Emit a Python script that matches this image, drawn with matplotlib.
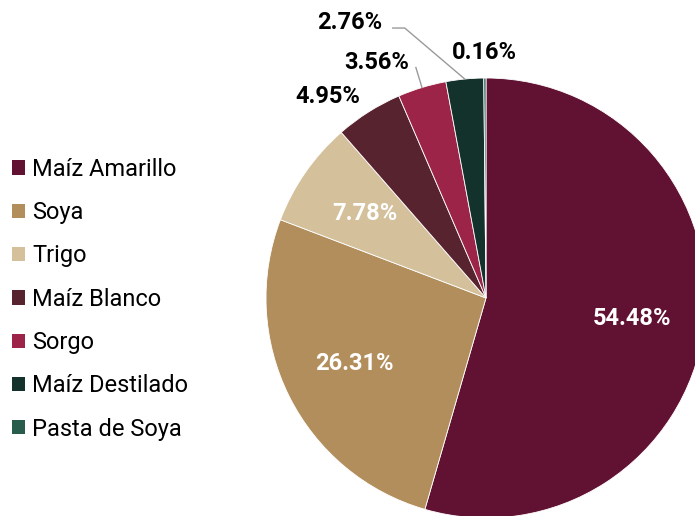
import numpy as np
import matplotlib
matplotlib.use("Agg")
import matplotlib.pyplot as plt
from matplotlib.patches import Patch

categories = ["Maíz Amarillo", "Soya", "Trigo", "Maíz Blanco", "Sorgo",
              "Maíz Destilado", "Pasta de Soya"]
values = [54.48, 26.31, 7.78, 4.95, 3.56, 2.76, 0.16]
pct_labels = ["54.48%", "26.31%", "7.78%", "4.95%", "3.56%", "2.76%", "0.16%"]
colors = ["#611232", "#B38E5D", "#D4C19C", "#57232E", "#9D2449", "#13322B", "#285C4D"]

W, H = 695, 516
fig = plt.figure(figsize=(W / 100, H / 100), dpi=100)
ax = fig.add_axes([0, 0, 1, 1])
ax.set_xlim(0, W)
ax.set_ylim(0, H)
ax.set_aspect("equal")
ax.axis("off")

cx, cy, R = 486, 218, 220
wedges, _ = ax.pie(values, colors=colors, startangle=90, counterclock=False,
                   center=(cx, cy), radius=R,
                   wedgeprops=dict(edgecolor="white", linewidth=0.6))
ax.set_xlim(0, W)
ax.set_ylim(0, H)

font_lab = "Roboto"
FS = 17

def mid(w):
    return np.deg2rad((w.theta1 + w.theta2) / 2)

# inside labels
for i in range(3):
    a = mid(wedges[i])
    r = 0.67 * R
    ax.text(cx + r * np.cos(a), cy + r * np.sin(a), pct_labels[i], ha="center",
            va="center", color="white", fontsize=FS, fontweight="bold", family=font_lab)

# outside labels: label offset in px from wedge edge mid
offsets = {3: (-41, 15), 4: (-45, 25), 5: (-115, 57), 6: (-1, 26)}
for i, (dx, dy) in offsets.items():
    a = mid(wedges[i])
    ex, ey = cx + R * np.cos(a), cy + R * np.sin(a)
    ax.text(ex + dx, ey + dy, pct_labels[i], ha="center", va="center",
            color="black", fontsize=FS, fontweight="bold", family=font_lab)

# leader lines
a = mid(wedges[4])
ax.plot([cx + R * np.cos(a), cx + 1.095 * R * np.cos(a)],
        [cy + R * np.sin(a), cy + 1.095 * R * np.sin(a)], color="#9a9a9a", lw=1)
a = mid(wedges[5])
ex, ey = cx + R * np.cos(a), cy + R * np.sin(a)
ax.plot([ex, ex - 60, ex - 72], [ey, ey + 51, ey + 51], color="#9a9a9a", lw=1)

handles = [Patch(facecolor=c, edgecolor="none") for c in colors]
fig.legend(handles, categories, loc="center left", bbox_to_anchor=(-0.013, 0.42),
           frameon=False, prop=dict(family="Roboto", size=FS),
           handlelength=0.55, handleheight=0.55, handletextpad=0.3, labelspacing=0.86)

fig.savefig("out.png", dpi=100)
